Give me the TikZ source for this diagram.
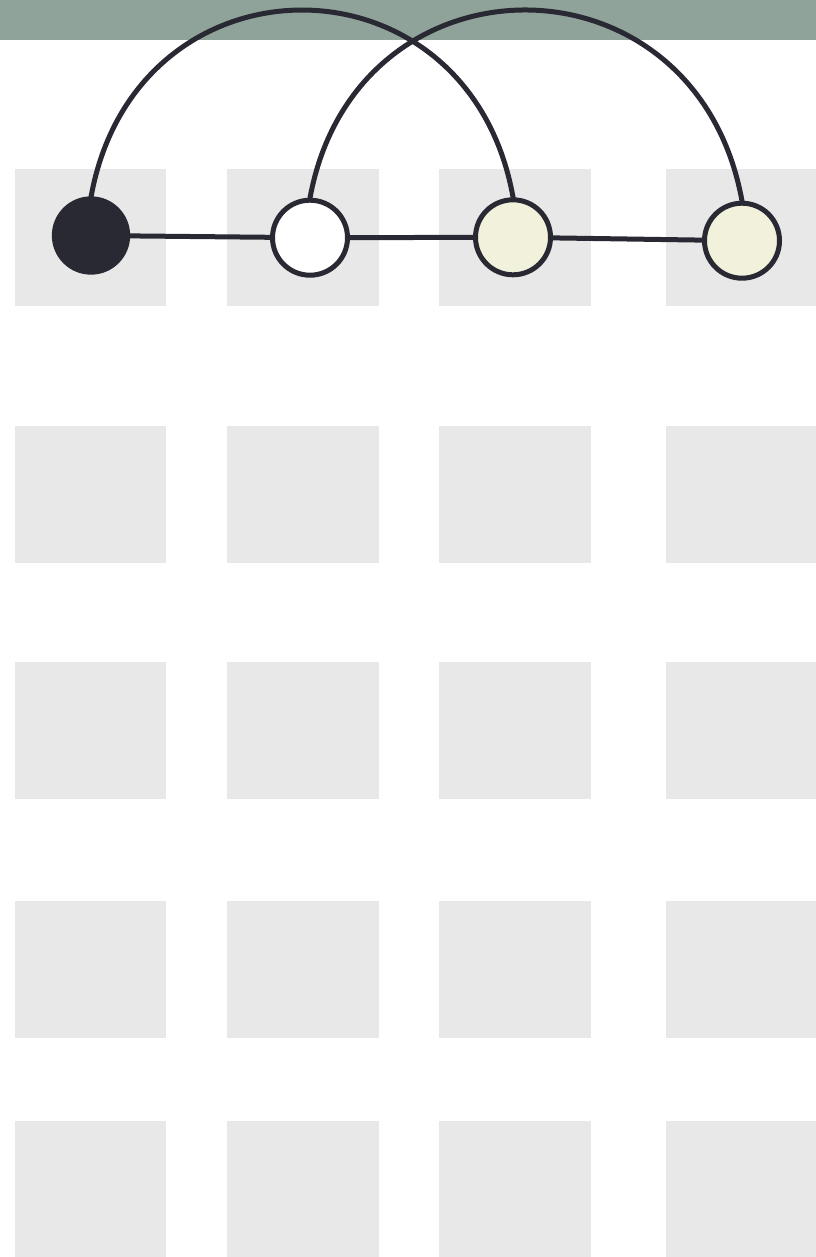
\documentclass[tikz,border=0pt]{standalone}
\definecolor{barc}{RGB}{144,163,154}
\definecolor{cellc}{RGB}{232,232,232}
\definecolor{inkc}{RGB}{41,41,51}
\definecolor{creamc}{RGB}{241,241,220}
\pgfdeclarelayer{back}
\pgfdeclarelayer{mid}
\pgfsetlayers{back,mid,main}
\tikzset{
  cell/.style={fill=cellc,draw=none},
  bar/.style={fill=barc,draw=none},
  link/.style={draw=inkc,line width=3.75pt},
  dot/.style={circle,inner sep=0pt,line width=3.75pt,draw=inkc,minimum size=56.25pt},
  blackdot/.style={dot,fill=inkc,minimum size=55pt},
  whitedot/.style={dot,fill=white},
  creamdot/.style={dot,fill=creamc}
}
\begin{document}
\begin{tikzpicture}[x=0.75pt,y=-0.75pt]
\useasboundingbox (0,0) rectangle (816,1257);
\begin{pgfonlayer}{back}
\fill[white] (0,0) rectangle (816,1257);
\path[bar] (0,0) rectangle (816,40);
\foreach \ya/\yb in {169/306,426/563,662/799,901/1038,1121/1257}{
  \path[cell] (15,\ya) rectangle (166,\yb);
  \path[cell] (227,\ya) rectangle (379,\yb);
  \path[cell] (439,\ya) rectangle (591,\yb);
  \path[cell] (665.5,\ya) rectangle (816,\yb);
}
\end{pgfonlayer}
\node[blackdot] (n1) at (91,235.5) {};
\node[whitedot] (n2) at (310,237.7) {};
\node[creamdot] (n3) at (513,237.3) {};
\node[creamdot] (n4) at (742,240.7) {};
\begin{pgfonlayer}{mid}
\draw[link] (n1.center) -- (n2.center) -- (n3.center) -- (n4.center);
\draw[link] (n1.center) -- (91,197) .. controls (136,-52.3) and (468,-52.3) .. (513,197) -- (n3.center);
\draw[link] (n2.center) -- (310,198) .. controls (356,-53.2) and (696,-53.2) .. (742,201) -- (n4.center);
\end{pgfonlayer}
\end{tikzpicture}
\end{document}
